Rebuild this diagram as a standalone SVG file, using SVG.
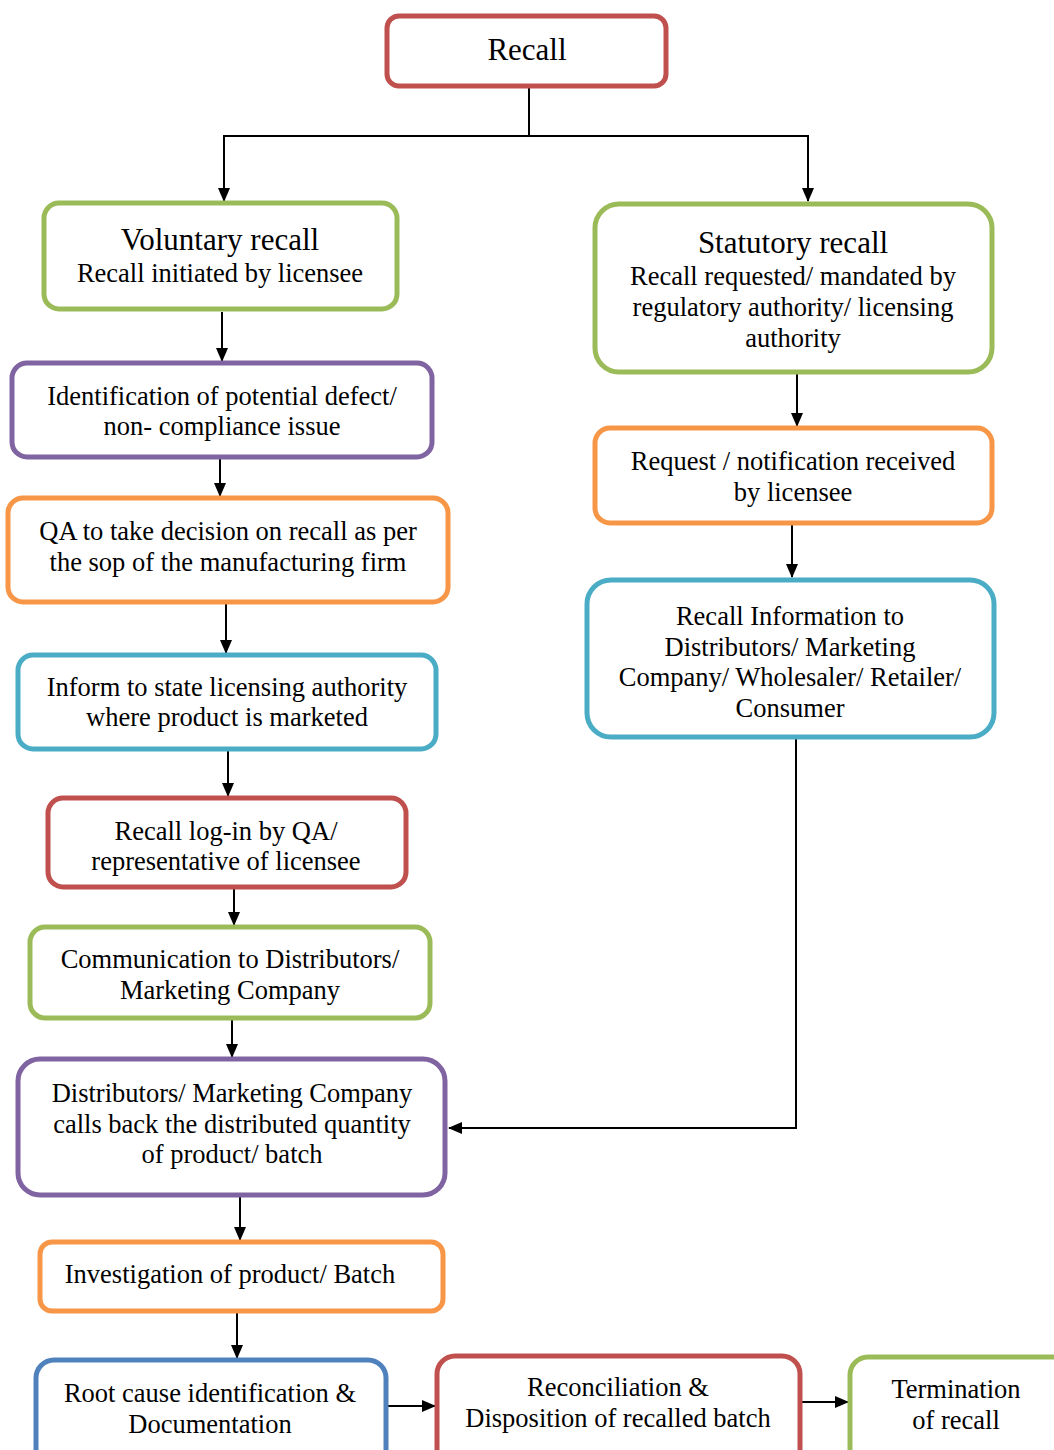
<svg xmlns="http://www.w3.org/2000/svg" width="1054" height="1450" viewBox="0 0 1054 1450">
<defs>
<marker id="ah" markerWidth="14" markerHeight="14" refX="13" refY="7" orient="auto" markerUnits="userSpaceOnUse">
<path d="M0,1 L14,7 L0,13 Z" fill="#000"/>
</marker>
<style>
.box{fill:#fff;stroke-width:5}
.red{stroke:#C0504D}.green{stroke:#9BBB59}.purple{stroke:#8064A2}.orange{stroke:#F79646}.teal{stroke:#4BACC6}.blue{stroke:#4F81BD}
text{font-family:Liberation Serif, Times New Roman, serif;fill:#000;text-anchor:middle;font-size:26.5px}
.t{font-size:31px}
.c{fill:none;stroke:#000;stroke-width:2}
</style>
</defs>
<rect width="1054" height="1450" fill="#fff"/>
<g id="connectors">
<path class="c" d="M529,87 V136 H224 V201" marker-end="url(#ah)"/>
<path class="c" d="M529,136 H808 V201" marker-end="url(#ah)"/>
<path class="c" d="M222,312 V361" marker-end="url(#ah)"/>
<path class="c" d="M220,459 V496" marker-end="url(#ah)"/>
<path class="c" d="M226,602 V653" marker-end="url(#ah)"/>
<path class="c" d="M228,750 V796" marker-end="url(#ah)"/>
<path class="c" d="M234,886 V925" marker-end="url(#ah)"/>
<path class="c" d="M232,1014 V1057" marker-end="url(#ah)"/>
<path class="c" d="M240,1192 V1240" marker-end="url(#ah)"/>
<path class="c" d="M237,1312 V1358" marker-end="url(#ah)"/>
<path class="c" d="M388,1406 H435" marker-end="url(#ah)"/>
<path class="c" d="M802,1402 H848" marker-end="url(#ah)"/>
<path class="c" d="M797,373 V426" marker-end="url(#ah)"/>
<path class="c" d="M792,524 V577" marker-end="url(#ah)"/>
<path class="c" d="M796,739 V1128 H449" marker-end="url(#ah)"/>
</g>
<g id="recall">
<rect class="box red" x="387" y="16" width="279" height="70" rx="12"/>
<text class="t" x="527" y="60">Recall</text>
</g>
<g id="voluntary">
<rect class="box green" x="44" y="203" width="353" height="106" rx="15"/>
<text class="t" x="220" y="250">Voluntary recall</text>
<text x="220" y="282">Recall initiated by licensee</text>
</g>
<g id="statutory">
<rect class="box green" x="595" y="204" width="397" height="168" rx="24"/>
<text class="t" x="793" y="253">Statutory recall</text>
<text x="793" y="285">Recall requested/ mandated by</text>
<text x="793" y="316">regulatory authority/ licensing</text>
<text x="793" y="347">authority</text>
</g>
<g id="identification">
<rect class="box purple" x="12" y="363" width="420" height="94" rx="15"/>
<text x="222" y="405">Identification of potential defect/</text>
<text x="222" y="435">non- compliance issue</text>
</g>
<g id="qa">
<rect class="box orange" x="8" y="498" width="440" height="104" rx="15"/>
<text x="228" y="540">QA to take decision on recall as per</text>
<text x="228" y="571">the sop of the manufacturing firm</text>
</g>
<g id="inform">
<rect class="box teal" x="18" y="655" width="418" height="94" rx="15"/>
<text x="227" y="696">Inform to state licensing authority</text>
<text x="227" y="726">where product is marketed</text>
</g>
<g id="login">
<rect class="box red" x="48" y="798" width="358" height="89" rx="15"/>
<text x="226" y="840">Recall log-in by QA/</text>
<text x="226" y="870">representative of licensee</text>
</g>
<g id="communication">
<rect class="box green" x="30" y="927" width="400" height="91" rx="15"/>
<text x="230" y="968">Communication to Distributors/</text>
<text x="230" y="999">Marketing Company</text>
</g>
<g id="distributors">
<rect class="box purple" x="18" y="1059" width="427" height="136" rx="22"/>
<text x="232" y="1102">Distributors/ Marketing Company</text>
<text x="232" y="1133">calls back the distributed quantity</text>
<text x="232" y="1163">of product/ batch</text>
</g>
<g id="investigation">
<rect class="box orange" x="40" y="1242" width="403" height="69" rx="12"/>
<text x="230" y="1283">Investigation of product/ Batch</text>
</g>
<g id="rootcause">
<rect class="box blue" x="36" y="1360" width="350" height="110" rx="18"/>
<text x="210" y="1402">Root cause identification &amp;</text>
<text x="210" y="1433">Documentation</text>
</g>
<g id="reconciliation">
<rect class="box red" x="437" y="1356" width="363" height="114" rx="18"/>
<text x="618" y="1396">Reconciliation &amp;</text>
<text x="618" y="1427">Disposition of recalled batch</text>
</g>
<g id="termination">
<rect class="box green" x="850" y="1357" width="220" height="113" rx="18"/>
<text x="956" y="1398">Termination</text>
<text x="956" y="1429">of recall</text>
</g>
<g id="request">
<rect class="box orange" x="595" y="428" width="397" height="95" rx="15"/>
<text x="793" y="470">Request / notification received</text>
<text x="793" y="501">by licensee</text>
</g>
<g id="recallinfo">
<rect class="box teal" x="587" y="580" width="407" height="157" rx="24"/>
<text x="790" y="625">Recall Information to</text>
<text x="790" y="656">Distributors/ Marketing</text>
<text x="790" y="686">Company/ Wholesaler/ Retailer/</text>
<text x="790" y="717">Consumer</text>
</g>
</svg>
